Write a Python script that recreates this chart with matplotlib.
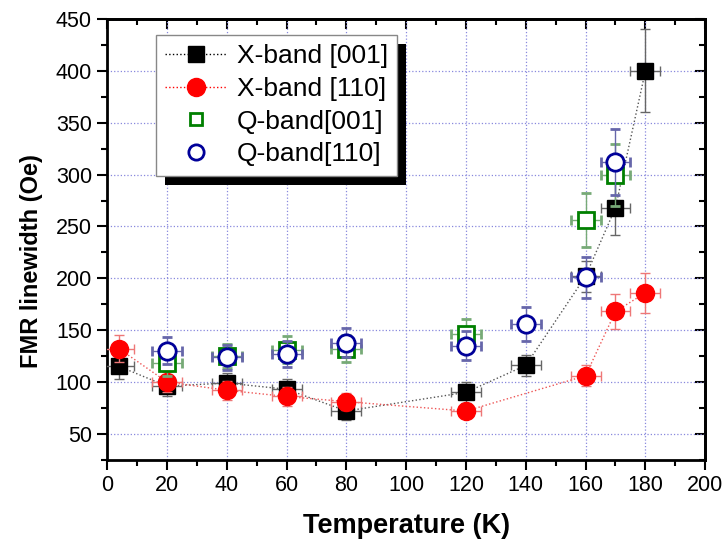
import numpy as np
import matplotlib
matplotlib.use('Agg')
import matplotlib.pyplot as plt
from matplotlib.patches import Rectangle

plt.rcParams['font.family'] = ['Liberation Sans', 'DejaVu Sans']

# X-band [001]
t_x001 = [4, 20, 40, 60, 80, 120, 140, 160, 170, 180]
w_x001 = [115, 96, 99, 93, 72, 90, 116, 202, 268, 400]
e_x001 = [12, 10, 10, 10, 9, 10, 10, 15, 26, 40]
# X-band [110]
t_x110 = [4, 20, 40, 60, 80, 120, 160, 170, 180]
w_x110 = [132, 100, 92, 86, 81, 72, 106, 168, 186]
e_x110 = [13, 10, 9, 9, 8, 7, 10, 17, 19]
# Q-band[001]
t_q001 = [20, 40, 60, 80, 120, 160, 170]
w_q001 = [118, 125, 131, 132, 146, 256, 300]
e_q001 = [12, 12, 13, 13, 15, 26, 30]
# Q-band[110]
t_q110 = [20, 40, 60, 80, 120, 140, 160, 170]
w_q110 = [130, 124, 127, 138, 135, 156, 201, 312]
e_q110 = [13, 12, 13, 14, 14, 16, 20, 32]
t_err = 5

labels = ['X-band [001]', 'X-band [110]', 'Q-band[001]', 'Q-band[110]']

fig = plt.figure(figsize=(7.24, 5.46), dpi=100)
ax = fig.add_axes([0.148, 0.158, 0.826, 0.807])

ax.grid(True, which='major', color='#8888dd', linestyle=':', linewidth=0.9)
ax.set_axisbelow(True)

ax.plot(t_x001, w_x001, ':', color='#555555', lw=1, zorder=3)
ax.plot(t_x110, w_x110, ':', color='#ee5555', lw=1, zorder=3)
ax.errorbar(t_x001, w_x001, yerr=e_x001, xerr=t_err, fmt='s', color='black',
            ms=12, ecolor='#666666', elinewidth=1, capsize=3.5, zorder=4)
ax.errorbar(t_x110, w_x110, yerr=e_x110, xerr=t_err, fmt='o', color='red',
            ms=13, ecolor='#ee7777', elinewidth=1, capsize=3.5, zorder=5)
ax.errorbar(t_q001, w_q001, yerr=e_q001, xerr=t_err, fmt='s', mfc='white',
            mec='green', mew=2, ms=11, ecolor='#77aa77', elinewidth=1,
            capsize=3.5, zorder=6)
ax.errorbar(t_q110, w_q110, yerr=e_q110, xerr=t_err, fmt='o', mfc='white',
            mec='#000099', mew=2, ms=12.5, ecolor='#6666aa', elinewidth=1,
            capsize=3.5, zorder=7)

# legend handles (markers with dotted line for X-band)
l1, = ax.plot([], [], ':s', color='black', ms=11.5, lw=1)
l2, = ax.plot([], [], ':o', color='red', ms=13, lw=1)
l3, = ax.plot([], [], 's', mfc='white', mec='green', mew=2, ms=9, ls='none')
l4, = ax.plot([], [], 'o', mfc='white', mec='#000099', mew=2, ms=11, ls='none')
leg = ax.legend([l1, l2, l3, l4], labels,
                loc='upper left', bbox_to_anchor=(0.082, 0.964), borderaxespad=0,
                fontsize=19, frameon=True, fancybox=False, edgecolor='#888888',
                framealpha=1, handlelength=2.3, handletextpad=0.4,
                borderpad=0.35, labelspacing=0.33)
leg.get_frame().set_linewidth(1)
leg.set_zorder(20)

ax.set_xlim(0, 200)
ax.set_ylim(25, 450)
ax.set_xticks(np.arange(0, 201, 20))
ax.set_xticks(np.arange(0, 201, 10), minor=True)
ax.set_yticks(np.arange(50, 451, 50))
ax.set_yticks(np.arange(25, 451, 25), minor=True)
ax.tick_params(which='major', direction='out', length=7, width=1.5, labelsize=15.5, pad=4)
ax.tick_params(which='minor', direction='out', length=4, width=1.5)

secx = ax.secondary_xaxis('top')
secx.set_xticks(np.arange(0, 201, 20))
secx.set_xticks(np.arange(0, 201, 10), minor=True)
secx.tick_params(which='major', direction='in', length=7, width=1.5, labeltop=False)
secx.tick_params(which='minor', direction='in', length=4, width=1.5)
secy = ax.secondary_yaxis('right')
secy.set_yticks(np.arange(50, 451, 50))
secy.set_yticks(np.arange(25, 451, 25), minor=True)
secy.tick_params(which='major', direction='in', length=7, width=1.5, labelright=False)
secy.tick_params(which='minor', direction='in', length=4, width=1.5)
for s in ax.spines.values():
    s.set_linewidth(2)
secx.spines['top'].set_linewidth(2)
secy.spines['right'].set_linewidth(2)

ax.set_xlabel('Temperature (K)', fontsize=19.5, fontweight='bold')
ax.set_ylabel('FMR linewidth (Oe)', fontsize=17, fontweight='bold')
ax.xaxis.set_label_coords(0.5, -0.12)
ax.yaxis.set_label_coords(-0.108, 0.45)

# solid black shadow under legend, offset down-right
fig.canvas.draw()
bb = leg.get_frame().get_window_extent()
shadow = Rectangle((bb.x0 + 9, bb.y0 - 9), bb.width, bb.height, transform=None,
                   facecolor='black', edgecolor='none', zorder=19, clip_on=False)
ax.add_patch(shadow)

fig.savefig('out.png', dpi=100)
